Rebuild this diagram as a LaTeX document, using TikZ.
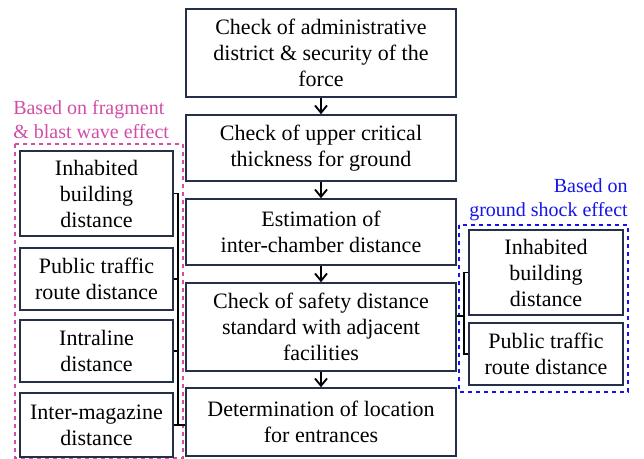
\documentclass[tikz,border=0pt]{standalone}
\usepackage{fontspec}
\setmainfont{Liberation Serif}
\usetikzlibrary{arrows.meta}
\definecolor{boxcol}{RGB}{35,48,72}
\definecolor{pinkcol}{RGB}{208,78,168}
\definecolor{bluecol}{RGB}{20,20,235}
\begin{document}
\begin{tikzpicture}[x=0.75pt,y=-0.75pt,
  stepbox/.style={draw=boxcol,line width=1.1pt,fill=white,align=center,inner sep=0pt,
    font=\rmfamily\fontsize{16.5}{19.5}\selectfont},
  mainbox/.style={stepbox,minimum width=202.5pt},
  sidebox/.style={stepbox,minimum width=114.75pt},
  flow/.style={line width=1.4pt,-{Straight Barb[length=5.5pt,width=9pt,line width=1.4pt]}},
  brk/.style={line width=1.3pt,black},
  lbl/.style={font=\rmfamily\fontsize{15}{18}\selectfont,inner sep=0pt}]
\useasboundingbox (0,0) rectangle (644,459);
% dashed groups
\draw[pinkcol,dashed,line width=0.8pt] (15,144) rectangle (183,458);
\draw[bluecol,dashed,line width=0.8pt] (459,225) rectangle (628,392);
\node[lbl,pinkcol,align=left,anchor=west] (pl) at (13,120) {Based on fragment\\\& blast wave effect};
\node[lbl,bluecol,align=right,anchor=east] (bl) at (628,200) {Based on\\ground shock effect};
% main column
\node[mainbox,minimum height=66pt] (b1) at (321,53) {Check of administrative\\district \& security of the\\force};
\node[mainbox,minimum height=49.5pt] (b2) at (321,148) {Check of upper critical\\thickness for ground};
\node[mainbox,minimum height=49.5pt] (b3) at (321,232) {Estimation of\\inter-chamber distance};
\node[mainbox,minimum height=66pt] (b4) at (321,327) {Check of safety distance\\standard with adjacent\\facilities};
\node[mainbox,minimum height=51pt] (b5) at (321,422) {Determination of location\\for entrances};
\draw[flow] (b1) -- (b2);
\draw[flow] (b2) -- (b3);
\draw[flow] (b3) -- (b4);
\draw[flow] (b4) -- (b5);
% left group
\node[sidebox,minimum height=63.75pt] (l1) at (96.5,193.5) {Inhabited\\building\\distance};
\node[sidebox,minimum height=46.5pt] (l2) at (96.5,279) {Public traffic\\route distance};
\node[sidebox,minimum height=46.5pt] (l3) at (96.5,351) {Intraline\\distance};
\node[sidebox,minimum height=48pt] (l4) at (96.5,425) {Inter-magazine\\distance};
\coordinate (lsp) at (178,0);
\draw[brk] (l1.east) -- (l1.east -| lsp) -- (l4.east -| lsp);
\draw[brk] (l2.east) -- (l2.east -| lsp);
\draw[brk] (l3.east) -- (l3.east -| lsp);
\draw[brk] (l4.east) -- (l4.east -| b5.west);
% right group
\node[sidebox,minimum width=115.5pt,minimum height=63.75pt] (r1) at (546,272.5) {Inhabited\\building\\distance};
\node[sidebox,minimum width=115.5pt,minimum height=46.5pt] (r2) at (546,354) {Public traffic\\route distance};
\coordinate (rsp) at (464,316);
\draw[brk] (r1.west) -- (r1.west -| rsp) -- (r2.west -| rsp) -- (r2.west);
\draw[brk] (b4.east |- rsp) -- (rsp);
\end{tikzpicture}
\end{document}
